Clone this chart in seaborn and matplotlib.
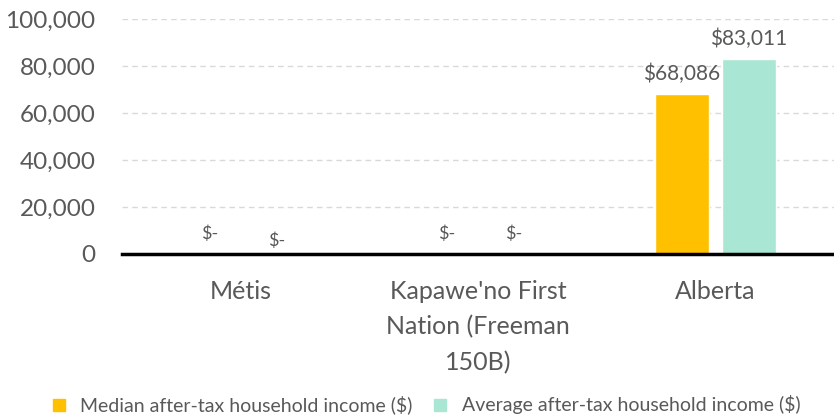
import numpy as np
import pandas as pd
import matplotlib
matplotlib.use("Agg")
import matplotlib.pyplot as plt
from matplotlib.ticker import FuncFormatter
from matplotlib.lines import Line2D
import seaborn as sns

# values
categories = ["Métis", "Kapawe'no First\nNation (Freeman\n150B)", "Alberta"]
series = ["Median after-tax household income ($)", "Average after-tax household income ($)"]
median_income = [0, 0, 68086]
average_income = [0, 0, 83011]
colors = ["#FFC000", "#A9E6D3"]
y_ticks = [0, 20000, 40000, 60000, 80000, 100000]

df = pd.DataFrame({
    "category": categories * 2,
    "series": [series[0]] * 3 + [series[1]] * 3,
    "value": median_income + average_income,
})

sns.set_style("white")
plt.rcParams["font.family"] = ["Lato", "DejaVu Sans"]
text_gray = "#595959"

fig = plt.figure(figsize=(8.34, 4.17), dpi=100)
ax = fig.add_axes([0.1463, 0.391, 0.8537, 0.5635])

sns.barplot(data=df, x="category", y="value", hue="series", order=categories,
            hue_order=series, palette=colors, width=0.565, gap=0.19,
            saturation=1, ax=ax, legend=False)

ax.set_ylim(0, 100000)
ax.set_xlim(-0.5, 2.5)
ax.set_yticks(y_ticks)
ax.yaxis.set_major_formatter(FuncFormatter(lambda v, p: f"{int(v):,}"))
ax.grid(axis="y", color="#D9D9D9", linestyle=(0, (4, 3)), linewidth=1)
ax.set_axisbelow(True)
for s in ["top", "right", "left"]:
    ax.spines[s].set_visible(False)
ax.spines["bottom"].set_color("black")
ax.spines["bottom"].set_linewidth(2.5)
ax.spines["bottom"].set_zorder(5)
ax.tick_params(axis="y", length=0, labelsize=17.5, labelcolor=text_gray, pad=19)
ax.tick_params(axis="x", length=0, labelsize=18, labelcolor=text_gray, pad=19)
for lab in ax.get_xticklabels():
    lab.set_linespacing(1.62)
ax.set_xlabel("")
ax.set_ylabel("")

# data labels: Excel shows zeros as "$-"
for j, cont in enumerate(ax.containers):
    for i, bar in enumerate(cont):
        v = bar.get_height()
        x = bar.get_x() + bar.get_width() / 2
        if v == 0:
            lift = 9.4 if (i == 0 and j == 1) else 14.4
            ax.annotate("$-", (x, 0), xytext=(1.6, lift),
                        textcoords="offset points", ha="center", va="center",
                        fontsize=13, color=text_gray)
        else:
            ax.annotate(f"${int(v):,}", (x, v), xytext=(0, 9.7),
                        textcoords="offset points", ha="center", va="baseline",
                        fontsize=15, color=text_gray)

handles = [Line2D([], [], marker="s", linestyle="", markersize=9,
                  markerfacecolor=c, markeredgecolor=c) for c in colors]
fig.legend(handles, series, loc="center", bbox_to_anchor=(0.508, 0.029),
           ncol=2, frameon=False, fontsize=14, labelcolor=text_gray,
           handletextpad=0.5, columnspacing=0.85, handlelength=1.2)

fig.savefig("out.png", dpi=100)
